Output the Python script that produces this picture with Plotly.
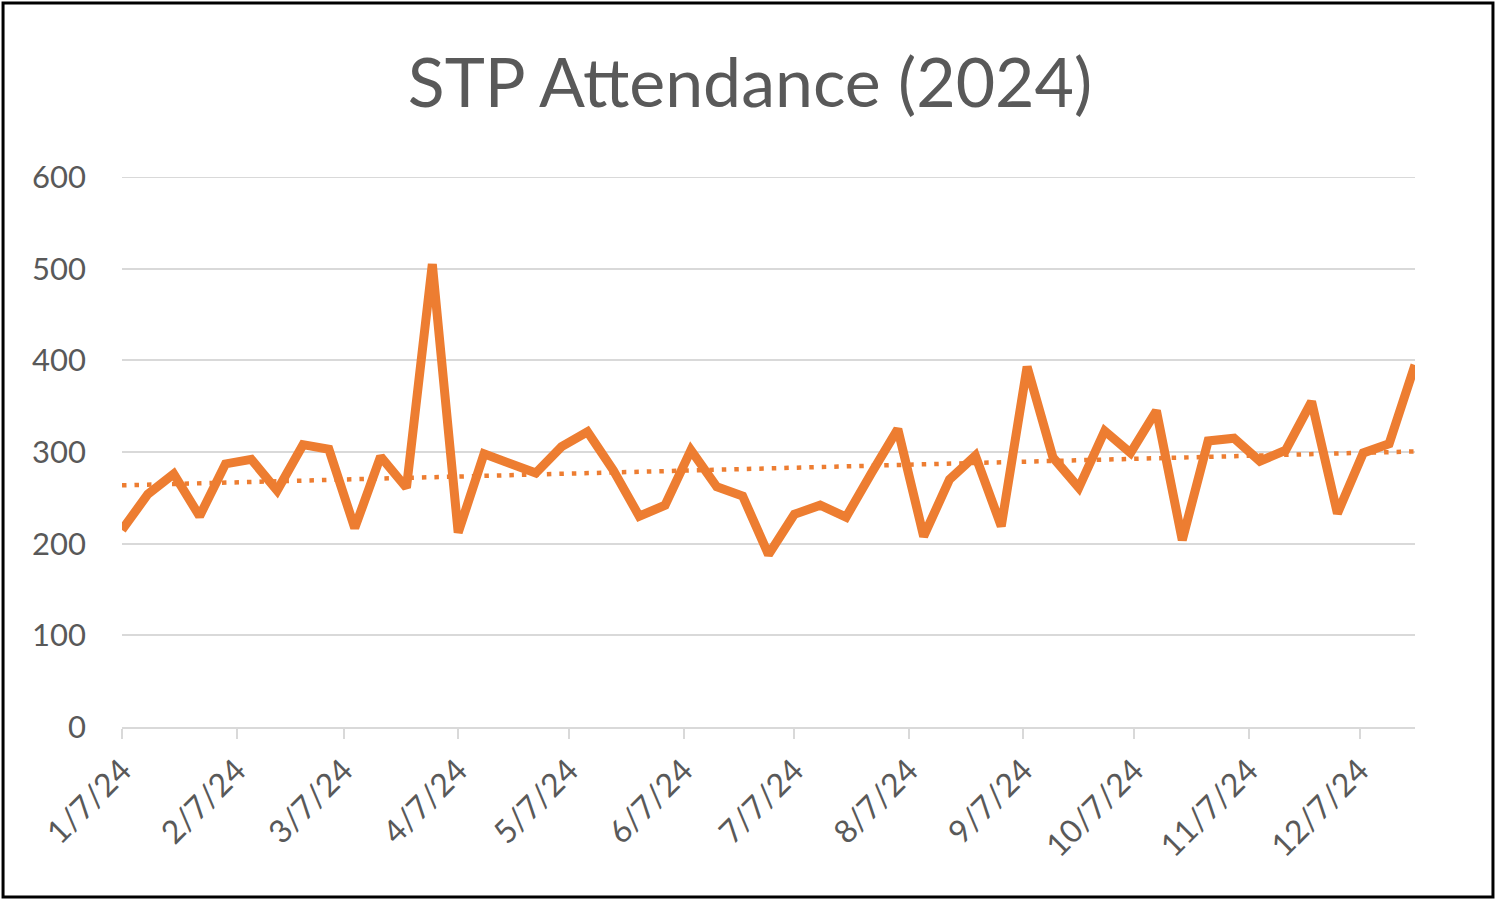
import numpy as np
import pandas as pd
import plotly.graph_objects as go

# weekly Sunday services, 2024
dates = pd.date_range("2024-01-07", periods=51, freq="7D")
attendance = [
    215, 254, 276, 230,
    287, 292, 258, 308,
    303, 217, 295, 261, 505,
    212, 298, 288, 277,
    306, 322, 280, 230,
    242, 302, 262, 252, 188,
    232, 242, 229, 278,
    325, 208, 270, 296,
    219, 393, 294, 261, 323,
    299, 345, 204, 312,
    315, 290, 302, 355,
    233, 299, 309, 395,
]
tick_dates = ["2024-01-07", "2024-02-07", "2024-03-07", "2024-04-07", "2024-05-07", "2024-06-07",
              "2024-07-07", "2024-08-07", "2024-09-07", "2024-10-07", "2024-11-07", "2024-12-07"]
tick_labels = ["1/7/24", "2/7/24", "3/7/24", "4/7/24", "5/7/24", "6/7/24",
               "7/7/24", "8/7/24", "9/7/24", "10/7/24", "11/7/24", "12/7/24"]
y_max = 600

orange = "#ED7D31"
grey_text = "#595959"
grid = "#D9D9D9"
font = "Lato"

# linear trendline, like Excel's
days = np.array([(d - dates[0]).days for d in dates], dtype=float)
slope, intercept = np.polyfit(days, attendance, 1)
trend = slope * days + intercept

fig = go.Figure()
fig.add_trace(go.Scatter(x=dates, y=attendance, mode="lines",
                         line=dict(color=orange, width=9), showlegend=False))
fig.add_trace(go.Scatter(x=dates, y=trend, mode="lines",
                         line=dict(color=orange, width=4.5, dash="4.5px,8px"), showlegend=False))

fig.update_layout(
    width=1500, height=905,
    margin=dict(l=122, r=85, t=177, b=178),
    paper_bgcolor="white", plot_bgcolor="white",
    title=dict(text="STP Attendance (2024)", x=0.5, xref="container", xanchor="center",
               y=0.908, yref="container", yanchor="middle",
               font=dict(family=font, size=68, color=grey_text)),
    font=dict(family=font, color=grey_text),
)
fig.update_xaxes(
    range=[dates[0], dates[-1]],
    tickvals=tick_dates, ticktext=tick_labels, tickangle=-45,
    tickfont=dict(family=font, size=32, color=grey_text),
    showgrid=False, showline=True, linecolor=grid, linewidth=2,
    ticks="outside", ticklen=10, tickwidth=2, tickcolor=grid,
    zeroline=False,
)
fig.update_yaxes(
    range=[0, y_max], dtick=100,
    tickfont=dict(family=font, size=31, color=grey_text),
    showgrid=True, gridcolor=grid, gridwidth=2,
    showline=False, zeroline=False, ticks="", ticklabelstandoff=35,
)

# plotly drops the gridline on the top edge, so draw it back
fig.add_shape(type="line", xref="paper", yref="y", x0=0, x1=1, y0=y_max, y1=y_max,
              line=dict(color=grid, width=2), layer="below")

# black frame round the whole chart
fig.add_shape(type="rect", xref="paper", yref="paper",
              x0=-0.0920, x1=1.0603, y0=-0.309, y1=1.3164,
              line=dict(color="black", width=3), fillcolor="rgba(0,0,0,0)")

fig.write_html("out.html", config={"displayModeBar": False},
               post_script="document.body.style.margin='0px';")
